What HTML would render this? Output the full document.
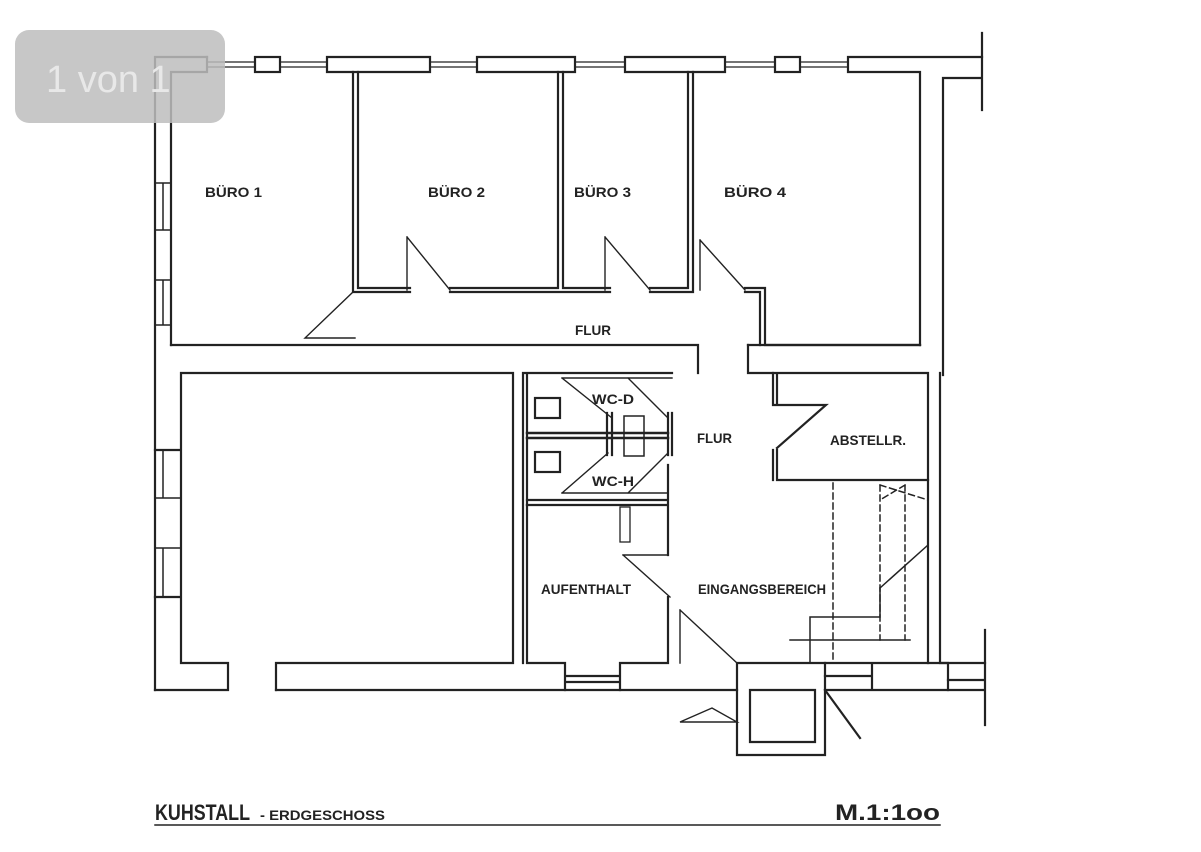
<!DOCTYPE html>
<html><head><meta charset="utf-8"><style>
html,body{margin:0;padding:0;background:#fff;}
svg{display:block}
text{font-family:"Liberation Sans Narrow","Liberation Sans",sans-serif;font-weight:bold;fill:#222}
</style></head><body>
<svg width="1201" height="852" viewBox="0 0 1201 852" xmlns="http://www.w3.org/2000/svg">
<g stroke="#222" stroke-width="2.2" fill="none" stroke-linecap="square">
<path d="M155 57 H207 M155 57 V690"/>
<path d="M171 72 H207 V57 M171 72 V345"/>
<path d="M207 62 H255 M207 67 H255" stroke-width="1.2"/>
<rect x="255" y="57" width="25" height="15"/>
<path d="M280 62 H327 M280 67 H327" stroke-width="1.2"/>
<path d="M327 57 H430 V72 H327 Z"/>
<path d="M430 62 H477 M430 67 H477" stroke-width="1.2"/>
<path d="M477 57 H575 V72 H477 Z"/>
<path d="M575 62 H625 M575 67 H625" stroke-width="1.2"/>
<path d="M625 57 H725 V72 H625 Z"/>
<path d="M725 62 H775 M725 67 H775" stroke-width="1.2"/>
<rect x="775" y="57" width="25" height="15"/>
<path d="M800 62 H848 M800 67 H848" stroke-width="1.2"/>
<path d="M848 57 H982 M848 57 V72 H920 V345"/>
<path d="M982 33 V110 M943 78 H982 M943 78 V375"/>
<path d="M155 183 H171 M155 230 H171 M155 280 H171 M155 325 H171 M163 183 V230 M163 280 V325" stroke-width="1.5"/>
<path d="M353 72 V292 M358 72 V288 H410 M353 292 H410"/>
<path d="M450 288 H558 V72 M563 72 V288 H610 M450 292 H610"/>
<path d="M650 288 H688 V72 M693 72 V292 M650 292 H693"/>
<path d="M745 288 H765 V345 H920 M745 292 H760 V345"/>
<path d="M407 237 V290 M407 237 L450 290" stroke-width="1.4"/>
<path d="M605 237 V290 M605 237 L650 290" stroke-width="1.4"/>
<path d="M700 240 V290 M700 240 L745 290" stroke-width="1.4"/>
<path d="M353 292 L305 338 H355" stroke-width="1.4"/>
<path d="M171 345 H698 V373 M748 345 V373 H773"/>
<path d="M765 345 H920 M748 345 H765"/>
<path d="M181 373 H513 V663 H276 V690 M181 373 V450 H155 M181 450 V597 M155 597 H181 V663 H228 V690 H155"/>
<path d="M155 498 H181 M155 548 H181 M163 450 V498 M163 548 V597" stroke-width="1.5"/>
<path d="M276 690 H737"/>
<path d="M523 373 V663 M527 373 V505 M523 373 H672"/>
<path d="M527 433 H668 M527 438 H668" stroke-width="2.5"/>
<path d="M527 500 H668 M527 505 H668 M668 465 V555"/>
<path d="M607 413 V455 M612 413 V455 M668 413 V455 M672 413 V455"/>
<rect x="535" y="398" width="25" height="20"/><rect x="535" y="452" width="25" height="20"/>
<rect x="624" y="416" width="20" height="40" stroke-width="1.5"/>
<path d="M562 378 L612 418 M628 378 L668 418 M562 493 L608 453 M628 493 L668 453 M562 378 H672 M562 493 H668" stroke-width="1.4"/>
<rect x="620" y="507" width="10" height="35" stroke-width="1.3"/>
<path d="M527 505 V663 H565 M620 663 H668 V597 M565 663 V690 M620 663 V690 M565 676 H620 M565 682 H620"/>
<path d="M623 555 H668 M623 555 L670 597 M680 610 V663 M680 610 L737 663" stroke-width="1.4"/>
<path d="M773 373 H928 V480 H777 V450 M773 373 V405 M777 373 V405 M773 450 V480 M773 405 H826 L777 448"/>
<path d="M940 373 V663 H985 M928 480 V663"/>
<path d="M833 483 V663 M880 485 V640 M905 485 V640 M880 485 L928 500 M905 485 L880 500" stroke-dasharray="6 4" stroke-width="1.5"/>
<path d="M880 588 L928 545 M810 617 H880 V588 M790 640 H910 M810 617 V663" stroke-width="1.5"/>
<path d="M737 663 H825 V755 H737 Z M750 690 H815 V742 H750 Z"/>
<path d="M825 690 L860 738 M825 663 H872 M825 690 H872 M872 663 V690 M825 676 H872 M872 663 H948 M872 690 H948 V663"/>
<path d="M948 680 H985 M948 690 H985 M985 630 V725"/>
<path d="M680 722 L712 708 L737 722 Z" stroke-width="1.4"/>
<path d="M155 825 H940" stroke-width="1.5"/>
</g>
<g font-size="14">
<text x="205" y="197" textLength="57" lengthAdjust="spacingAndGlyphs">BÜRO 1</text>
<text x="428" y="197" textLength="57" lengthAdjust="spacingAndGlyphs">BÜRO 2</text>
<text x="574" y="197" textLength="57" lengthAdjust="spacingAndGlyphs">BÜRO 3</text>
<text x="724" y="197" textLength="62" lengthAdjust="spacingAndGlyphs">BÜRO 4</text>
<text x="575" y="335" textLength="36" lengthAdjust="spacingAndGlyphs">FLUR</text>
<text x="697" y="443" textLength="35" lengthAdjust="spacingAndGlyphs">FLUR</text>
<text x="592" y="404" textLength="42" lengthAdjust="spacingAndGlyphs">WC-D</text>
<text x="592" y="486" textLength="42" lengthAdjust="spacingAndGlyphs">WC-H</text>
<text x="830" y="445" textLength="76" lengthAdjust="spacingAndGlyphs">ABSTELLR.</text>
<text x="541" y="594" textLength="90" lengthAdjust="spacingAndGlyphs">AUFENTHALT</text>
<text x="698" y="594" textLength="128" lengthAdjust="spacingAndGlyphs">EINGANGSBEREICH</text>
</g>
<text x="155" y="820" font-size="22" textLength="95" lengthAdjust="spacingAndGlyphs">KUHSTALL</text>
<text x="260" y="820" font-size="14" textLength="125" lengthAdjust="spacingAndGlyphs">- ERDGESCHOSS</text>
<text x="835" y="820" font-size="22" textLength="105" lengthAdjust="spacingAndGlyphs">M.1:1oo</text>
<rect x="15" y="30" width="210" height="93" rx="14" fill="#bdbdbd" fill-opacity="0.85"/>
<text x="46" y="92" font-size="38" style="font-family:'Liberation Sans',sans-serif;font-weight:normal;fill:#e8e8e8">1 von 1</text>
</svg>
</body></html>
